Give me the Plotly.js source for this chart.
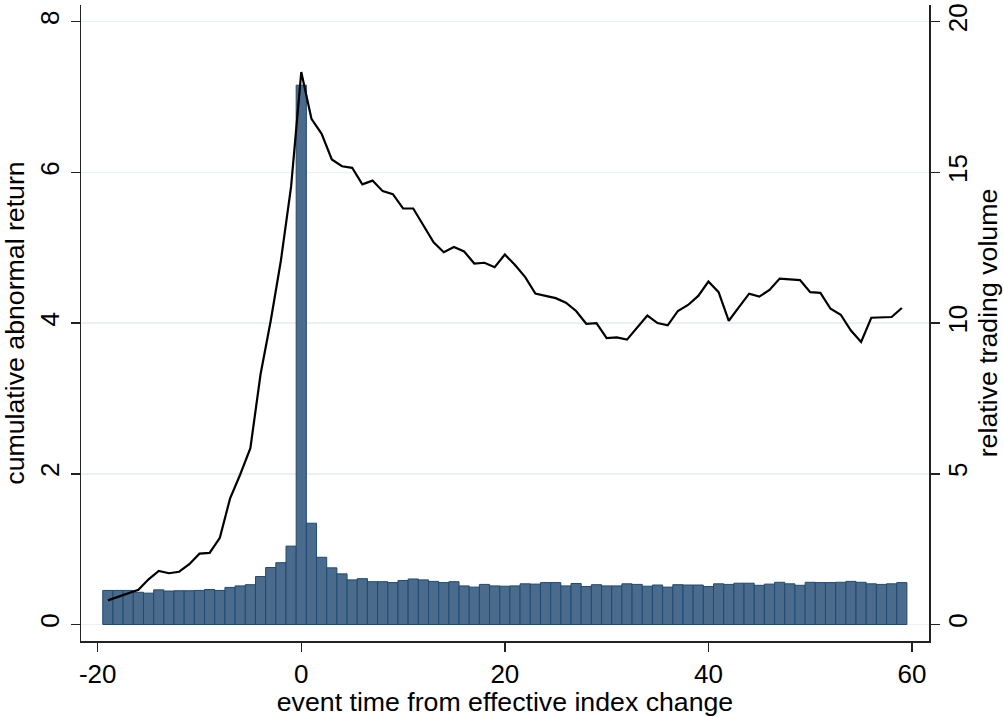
<!DOCTYPE html>
<html>
<head>
<meta charset="utf-8">
<script src="https://cdn.plot.ly/plotly-3.0.1.min.js"></script>
<style>html,body{margin:0;padding:0;background:#fff;}#chart{width:1003px;height:717px;}</style>
</head>
<body>
<div id="chart"></div>
<script>
const eventTime = [];
for (let t = -19; t <= 59; t++) eventTime.push(t);

const relVolume = [
  1.13, 1.13, 1.13, 1.07, 1.04, 1.15, 1.11, 1.12, 1.12, 1.13,
  1.16, 1.13, 1.23, 1.28, 1.32, 1.59, 1.89, 2.05, 2.60, 17.89,
  3.36, 2.23, 1.88, 1.68, 1.48, 1.52, 1.42, 1.42, 1.39, 1.46,
  1.51, 1.48, 1.43, 1.39, 1.42, 1.28, 1.24, 1.33, 1.28, 1.27,
  1.28, 1.35, 1.34, 1.39, 1.39, 1.28, 1.36, 1.26, 1.32, 1.28,
  1.28, 1.35, 1.33, 1.27, 1.31, 1.24, 1.32, 1.31, 1.31, 1.26,
  1.35, 1.33, 1.37, 1.37, 1.30, 1.34, 1.40, 1.35, 1.30, 1.40,
  1.39, 1.39, 1.40, 1.43, 1.40, 1.35, 1.33, 1.35, 1.39
];

const car = [
  0.32, 0.37, 0.41, 0.46, 0.60, 0.71, 0.68, 0.70, 0.80, 0.94,
  0.95, 1.15, 1.67, 1.99, 2.34, 3.32, 4.03, 4.83, 5.81, 7.33,
  6.71, 6.51, 6.17, 6.08, 6.06, 5.84, 5.89, 5.75, 5.71, 5.52,
  5.52, 5.29, 5.07, 4.94, 5.01, 4.95, 4.79, 4.80, 4.74, 4.91,
  4.77, 4.61, 4.39, 4.36, 4.33, 4.27, 4.16, 3.99, 4.00, 3.80,
  3.81, 3.78, 3.94, 4.10, 4.00, 3.97, 4.16, 4.24, 4.36, 4.55,
  4.41, 4.03, 4.21, 4.39, 4.35, 4.44, 4.59, 4.58, 4.57, 4.41,
  4.40, 4.19, 4.11, 3.90, 3.75, 4.07, 4.08, 4.08, 4.20
];

const xTicks = [-20, 0, 20, 40, 60];
const carTicks = [0, 2, 4, 6, 8];
const volTicks = [0, 5, 10, 15, 20];

const FONT = '"Liberation Sans", Arial, sans-serif';
const FS = 26;
const TFS = 26.7;

const traces = [
  {
    type: 'bar', x: eventTime, y: relVolume, yaxis: 'y', xaxis: 'x',
    width: 1,
    marker: {color: '#4a6b8b', line: {color: '#1f4a73', width: 1}},
    hoverinfo: 'x+y'
  },
  {
    type: 'scatter', mode: 'lines', x: eventTime, y: car, yaxis: 'y2', xaxis: 'x',
    line: {color: '#000000', width: 2.2}
  }
];

const layout = {
  width: 1003, height: 717,
  margin: {l: 81, r: 74, t: 5, b: 76},
  paper_bgcolor: '#ffffff', plot_bgcolor: '#ffffff',
  showlegend: false,
  bargap: 0,
  font: {family: FONT, color: '#000000', size: FS},
  xaxis: {
    range: [-21.64, 61.67],
    tickvals: xTicks, ticktext: xTicks.map(String),
    ticks: 'outside', ticklen: 9, tickwidth: 1.5, tickcolor: '#222',
    showline: true, linecolor: '#222', linewidth: 1.5,
    showgrid: false, zeroline: false,
    tickfont: {size: FS, family: FONT},
    title: {text: 'event time from effective index change', font: {size: TFS, family: FONT}, standoff: 0}
  },
  yaxis: {
    side: 'right',
    range: [-0.5475, 20.55],
    tickvals: volTicks, ticktext: volTicks.map(String),
    ticks: 'outside', ticklen: 9, tickwidth: 1.5, tickcolor: '#222',
    tickangle: -90,
    showline: true, linecolor: '#222', linewidth: 1.5,
    showgrid: true, gridcolor: '#eaf1f3', gridwidth: 1.5,
    zeroline: false,
    tickfont: {size: FS, family: FONT},
    ticklabelstandoff: -4,
    title: {text: 'relative trading volume', font: {size: TFS, family: FONT}, standoff: 6}
  },
  yaxis2: {
    side: 'left', overlaying: 'y',
    range: [-0.219, 8.22],
    tickvals: carTicks, ticktext: carTicks.map(String),
    ticks: 'outside', ticklen: 9, tickwidth: 1.5, tickcolor: '#222',
    tickangle: -90,
    showline: true, linecolor: '#222', linewidth: 1.5,
    showgrid: false, zeroline: false,
    tickfont: {size: FS, family: FONT},
    ticklabelstandoff: 1,
    title: {text: 'cumulative abnormal return', font: {size: TFS, family: FONT}, standoff: 5}
  }
};

Plotly.newPlot('chart', traces, layout, {displayModeBar: false, staticPlot: true});
</script>
</body>
</html>
